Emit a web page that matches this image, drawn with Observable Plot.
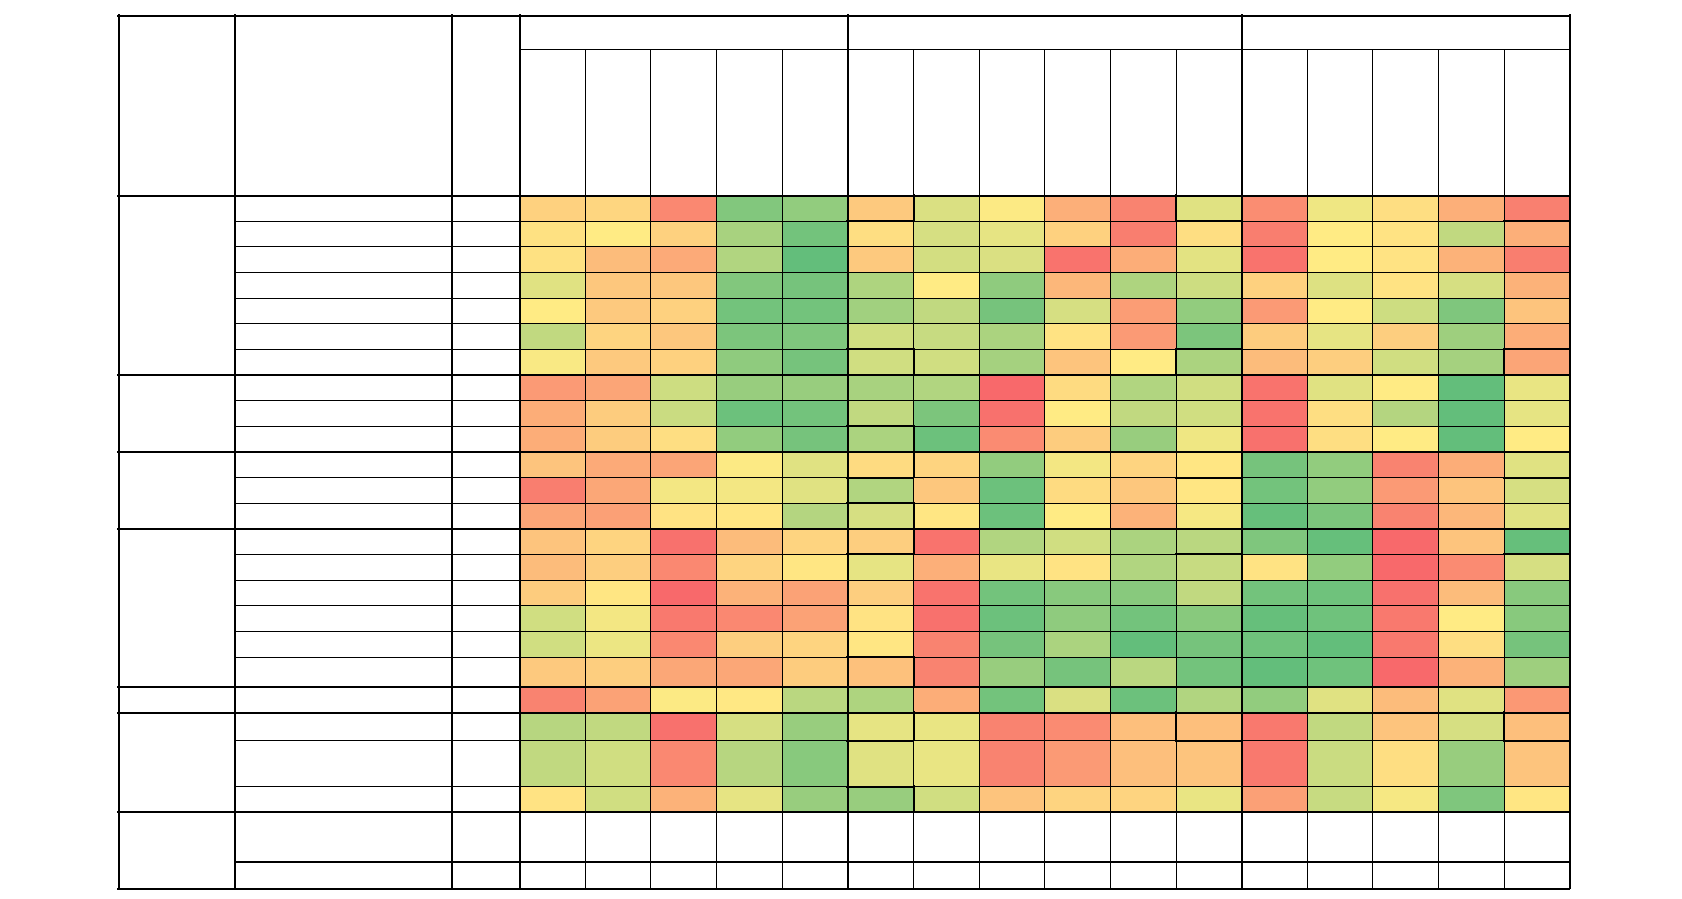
<!DOCTYPE html>
<html>
<head>
<meta charset="utf-8">
<script src="https://cdn.jsdelivr.net/npm/d3@7"></script>
<script src="https://cdn.jsdelivr.net/npm/@observablehq/plot@0.6"></script>
<style>
  html, body { margin: 0; padding: 0; background: #ffffff; }
  #chart svg { display: block; }
</style>
</head>
<body>
<div id="chart"></div>
<script>
// ---------------- DATA ----------------
// Column groups (header row 1) and the 16 data columns (header row 2)
const columnGroups = ["Group A", "Group B", "Group C"];
const columnGroupSizes = [5, 6, 5];
const columns = ["C1","C2","C3","C4","C5","C6","C7","C8","C9","C10","C11","C12","C13","C14","C15","C16"];

// Row groups (left merged column) and how many rows each holds
const rowGroups = ["R1", "R2", "R3", "R4", "R5", "R6", "R7"];
const rowGroupSizes = [7, 3, 3, 6, 1, 3, 2];
// the last group holds empty (unshaded) rows
const emptyRowGroup = "R7";

// Colour-scale values (0 = red, 0.5 = yellow, 1 = green), one list per shaded row
const row01 = [0.40,0.42,0.12,0.90,0.85,0.37,0.62,0.51,0.27,0.10,0.60,0.14,0.55,0.45,0.27,0.09];
const row02 = [0.46,0.50,0.40,0.78,0.95,0.45,0.63,0.58,0.40,0.08,0.45,0.08,0.50,0.47,0.70,0.27];
const row03 = [0.46,0.32,0.25,0.75,1.00,0.37,0.64,0.62,0.04,0.26,0.59,0.04,0.50,0.47,0.28,0.08];
const row04 = [0.60,0.36,0.36,0.90,0.94,0.76,0.50,0.86,0.30,0.76,0.66,0.40,0.61,0.47,0.63,0.28];
const row05 = [0.50,0.37,0.40,0.95,0.95,0.80,0.70,0.94,0.63,0.20,0.85,0.19,0.50,0.66,0.91,0.35];
const row06 = [0.70,0.41,0.36,0.92,0.91,0.65,0.68,0.77,0.47,0.19,0.92,0.38,0.58,0.39,0.81,0.26];
const row07 = [0.52,0.37,0.40,0.86,0.94,0.65,0.65,0.79,0.35,0.50,0.77,0.32,0.39,0.65,0.79,0.23];
const row08 = [0.19,0.23,0.66,0.83,0.83,0.78,0.75,0.00,0.44,0.75,0.65,0.04,0.60,0.50,1.00,0.57];
const row09 = [0.26,0.38,0.67,0.97,0.95,0.70,0.92,0.03,0.50,0.70,0.65,0.04,0.45,0.74,1.00,0.58];
const row10 = [0.26,0.38,0.45,0.85,0.94,0.77,0.97,0.13,0.38,0.83,0.55,0.03,0.45,0.50,1.00,0.50];
const row11 = [0.35,0.25,0.23,0.51,0.60,0.44,0.41,0.85,0.54,0.41,0.48,0.94,0.85,0.10,0.26,0.60];
const row12 = [0.08,0.24,0.54,0.54,0.60,0.75,0.36,0.97,0.44,0.36,0.48,0.95,0.85,0.19,0.35,0.63];
const row13 = [0.23,0.21,0.47,0.48,0.74,0.63,0.48,0.97,0.50,0.28,0.53,0.99,0.92,0.10,0.30,0.60];
const row14 = [0.35,0.41,0.03,0.32,0.41,0.39,0.04,0.75,0.65,0.77,0.72,0.91,0.99,0.00,0.35,0.99];
const row15 = [0.32,0.39,0.12,0.41,0.48,0.58,0.27,0.57,0.47,0.75,0.68,0.47,0.85,0.00,0.13,0.63];
const row16 = [0.38,0.48,0.00,0.28,0.22,0.39,0.04,0.95,0.88,0.88,0.70,0.95,0.96,0.03,0.32,0.88];
const row17 = [0.65,0.54,0.06,0.12,0.22,0.47,0.03,0.97,0.86,0.95,0.88,0.99,0.96,0.06,0.50,0.88];
const row18 = [0.65,0.56,0.12,0.39,0.41,0.48,0.10,0.94,0.77,1.00,0.94,0.96,1.00,0.06,0.45,0.94];
const row19 = [0.37,0.39,0.24,0.24,0.38,0.34,0.10,0.83,0.94,0.72,0.95,1.00,0.96,0.00,0.28,0.81];
const row20 = [0.10,0.22,0.51,0.49,0.72,0.76,0.26,0.95,0.62,0.97,0.75,0.85,0.60,0.32,0.60,0.18];
const row21 = [0.73,0.70,0.03,0.63,0.83,0.58,0.57,0.10,0.13,0.33,0.33,0.06,0.70,0.35,0.63,0.33];
const row22 = [0.70,0.65,0.12,0.73,0.88,0.60,0.57,0.10,0.19,0.33,0.35,0.06,0.67,0.45,0.83,0.35];
const row23 = [0.47,0.65,0.28,0.58,0.83,0.83,0.65,0.35,0.41,0.41,0.57,0.21,0.68,0.53,0.91,0.48];
const shadedRows = [row01,row02,row03,row04,row05,row06,row07,row08,row09,row10,row11,row12,
                    row13,row14,row15,row16,row17,row18,row19,row20,row21,row22,row23];

// Extra heavy cell borders present in the sheet (row index, column index, side)
const heavyBorders = [
  [0,5,"right"],[0,5,"bottom"],[6,5,"right"],[6,5,"top"],[9,5,"right"],[9,5,"top"],
  [10,5,"right"],[10,5,"bottom"],[12,5,"right"],[12,5,"top"],[13,5,"right"],[13,5,"bottom"],
  [18,5,"right"],[18,5,"top"],[20,5,"right"],[20,5,"bottom"],[22,5,"right"],[22,5,"top"],
  [0,10,"left"],[0,10,"bottom"],[6,10,"left"],[6,10,"top"],[10,10,"bottom"],[13,10,"bottom"],
  [20,10,"left"],[20,10,"bottom"],
  [0,15,"bottom"],[6,15,"left"],[6,15,"top"],[10,15,"bottom"],[13,15,"bottom"],
  [20,15,"left"],[20,15,"bottom"]
];

// ---------------- LAYOUT (relative sizes, not data) ----------------
const leftColumnWidths = [1.782, 3.30, 1.03];   // in data-column widths
const headerRowHeights = [1.34, 5.69];          // in standard row heights
const rowHeightFactor = { 18: 1.17, 20: 1.09, 21: 1.80, 23: 1.93, 24: 1.05 };
const thick = 2, thin = 1;

// ---------------- BUILD ----------------
const nCols = columns.length;
const xLeft = [0];
leftColumnWidths.forEach(w => xLeft.push(xLeft[xLeft.length - 1] + w));
const dataX0 = xLeft[xLeft.length - 1];
const xEnd = dataX0 + nCols;

// rows
const rows = [];
rowGroups.forEach((g, gi) => {
  for (let k = 0; k < rowGroupSizes[gi]; k++) rows.push({group: g, first: k === 0});
});
const nRows = rows.length;
const yTop = [0, headerRowHeights[0], headerRowHeights[0] + headerRowHeights[1]];
const dataY0 = yTop[2];
const rowEdges = [dataY0];
for (let r = 0; r < nRows; r++) rowEdges.push(rowEdges[r] + (rowHeightFactor[r] ?? 1));
const yEnd = rowEdges[nRows];

// cells
const cells = [];
let si = 0;
rows.forEach((row, r) => {
  if (row.group === emptyRowGroup) return;
  const vals = shadedRows[si++];
  vals.forEach((v, c) => cells.push({
    row: r, col: columns[c], v,
    x1: dataX0 + c, x2: dataX0 + c + 1, y1: rowEdges[r], y2: rowEdges[r + 1]
  }));
});

// column group boundaries
const groupStarts = new Set();
{ let acc = 0; columnGroupSizes.forEach(s => { groupStarts.add(acc); acc += s; }); }

// lines
const hThin = [], hThick = [], vThin = [], vThick = [];
hThick.push({y: 0, x1: 0, x2: xEnd});
hThin.push({y: yTop[1], x1: dataX0, x2: xEnd});
hThick.push({y: dataY0, x1: 0, x2: xEnd});
for (let r = 1; r < nRows; r++) {
  const y = rowEdges[r];
  if (rows[r].first) hThick.push({y, x1: 0, x2: xEnd});
  else if (rows[r].group === emptyRowGroup) hThick.push({y, x1: xLeft[1], x2: xEnd});
  else hThin.push({y, x1: xLeft[1], x2: xEnd});
}
hThick.push({y: yEnd, x1: 0, x2: xEnd});
xLeft.forEach(x => vThick.push({x, y1: 0, y2: yEnd}));
for (let c = 1; c < nCols; c++) {
  const x = dataX0 + c;
  if (groupStarts.has(c)) vThick.push({x, y1: 0, y2: yEnd});
  else vThin.push({x, y1: yTop[1], y2: yEnd});
}
vThick.push({x: xEnd, y1: 0, y2: yEnd});

heavyBorders.forEach(([r, c, side]) => {
  const x1 = dataX0 + c, x2 = x1 + 1, y1 = rowEdges[r], y2 = rowEdges[r + 1];
  if (side === "top") hThick.push({y: y1, x1, x2});
  if (side === "bottom") hThick.push({y: y2, x1, x2});
  if (side === "left") vThick.push({x: x1, y1, y2});
  if (side === "right") vThick.push({x: x2, y1, y2});
});

const W = 1682, H = 899;
const chart = Plot.plot({
  width: W,
  height: H,
  marginLeft: 118,
  marginRight: 112.6,
  marginTop: 15,
  marginBottom: 10.8,
  style: {background: "#ffffff"},
  x: {type: "linear", domain: [0, xEnd], axis: null},
  y: {type: "linear", domain: [0, yEnd], reverse: true, axis: null},
  color: {type: "linear", domain: [0, 0.5, 1], range: ["#F8696B", "#FFEB84", "#63BE7B"], interpolate: "rgb"},
  marks: [
    Plot.rect(cells, {x1: "x1", x2: "x2", y1: "y1", y2: "y2", fill: "v", shapeRendering: "crispEdges"}),
    Plot.ruleY(hThin, {y: "y", x1: "x1", x2: "x2", stroke: "#000", strokeWidth: thin, shapeRendering: "crispEdges"}),
    Plot.ruleX(vThin, {x: "x", y1: "y1", y2: "y2", stroke: "#000", strokeWidth: thin, shapeRendering: "crispEdges"}),
    Plot.ruleY(hThick, {y: "y", x1: "x1", x2: "x2", stroke: "#000", strokeWidth: thick, strokeLinecap: "square", shapeRendering: "crispEdges"}),
    Plot.ruleX(vThick, {x: "x", y1: "y1", y2: "y2", stroke: "#000", strokeWidth: thick, strokeLinecap: "square", shapeRendering: "crispEdges"})
  ]
});
document.getElementById("chart").appendChild(chart);
</script>
</body>
</html>
